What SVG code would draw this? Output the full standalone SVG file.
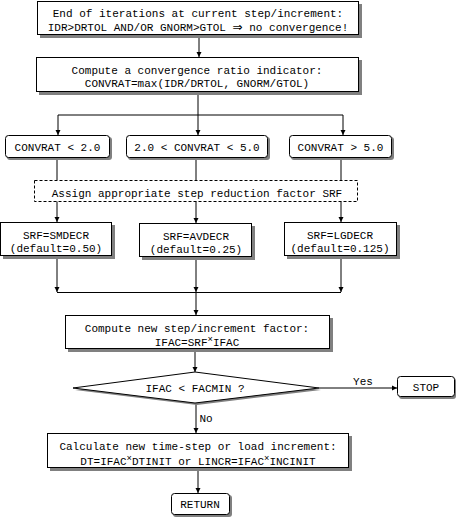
<svg xmlns="http://www.w3.org/2000/svg" width="459" height="519" viewBox="0 0 459 519">
<style>
text{font-family:"Liberation Mono","Courier New",monospace;font-size:11px;fill:#000;text-anchor:middle}
.box{fill:#fff;stroke:#000;stroke-width:1}
.sh{fill:#808080;stroke:none}
.ln{fill:none;stroke:#000;stroke-width:1}
.dash{fill:#fff;stroke:#000;stroke-width:1;stroke-dasharray:3,2}
.sym{font-family:"DejaVu Sans",sans-serif;font-size:12px}
</style>
<defs>
<marker id="ah" markerWidth="6" markerHeight="6" refX="5" refY="3" orient="auto" markerUnits="userSpaceOnUse">
<path d="M0,0.5 L5,3 L0,5.5 Z" fill="#000"/>
</marker>
</defs>
<rect width="459" height="519" fill="#fff"/>
<g id="connectors">
<line class="ln" x1="199" y1="35" x2="199" y2="57" marker-end="url(#ah)"/>
<line class="ln" x1="198" y1="92" x2="198" y2="115"/>
<line class="ln" x1="58" y1="115" x2="343" y2="115"/>
<line class="ln" x1="58" y1="115" x2="58" y2="135" marker-end="url(#ah)"/>
<line class="ln" x1="198" y1="115" x2="198" y2="135" marker-end="url(#ah)"/>
<line class="ln" x1="343" y1="115" x2="343" y2="135" marker-end="url(#ah)"/>
<line class="ln" x1="57" y1="158" x2="57" y2="180"/>
<line class="ln" x1="196" y1="158" x2="196" y2="180"/>
<line class="ln" x1="341" y1="158" x2="341" y2="180"/>
<line class="ln" x1="57" y1="201" x2="57" y2="222" marker-end="url(#ah)"/>
<line class="ln" x1="196" y1="201" x2="196" y2="223" marker-end="url(#ah)"/>
<line class="ln" x1="341" y1="201" x2="341" y2="222" marker-end="url(#ah)"/>
<line class="ln" x1="57" y1="256" x2="57" y2="292" marker-end="url(#ah)"/>
<line class="ln" x1="196" y1="257" x2="196" y2="292" marker-end="url(#ah)"/>
<line class="ln" x1="341" y1="256" x2="341" y2="292" marker-end="url(#ah)"/>
<line class="ln" x1="57" y1="292.5" x2="341" y2="292.5"/>
<line class="ln" x1="196" y1="292" x2="196" y2="315" marker-end="url(#ah)"/>
<line class="ln" x1="195" y1="349" x2="195" y2="372" marker-end="url(#ah)"/>
<line class="ln" x1="319" y1="388" x2="397" y2="388" marker-end="url(#ah)"/>
<line class="ln" x1="196" y1="403" x2="196" y2="433" marker-end="url(#ah)"/>
<line class="ln" x1="198" y1="468" x2="198" y2="493" marker-end="url(#ah)"/>
<text x="363" y="385">Yes</text>
<text x="206" y="422">No</text>
</g>
<g id="n1">
<rect class="sh" x="40" y="4" width="322" height="34"/>
<rect class="box" x="37.5" y="1.5" width="321" height="33"/>
<text x="198" y="17">End of iterations at current step/increment:</text>
<text x="198" y="31">IDR&gt;DRTOL AND/OR GNORM&gt;GTOL <tspan class="sym">⇒</tspan> no convergence!</text>
</g>
<g id="n2">
<rect class="sh" x="39" y="60" width="323" height="35"/>
<rect class="box" x="36.5" y="57.5" width="322" height="34"/>
<text x="197" y="74">Compute a convergence ratio indicator:</text>
<text x="197" y="87">CONVRAT=max(IDR/DRTOL, GNORM/GTOL)</text>
</g>
<g id="c1">
<rect class="sh" x="7" y="137" width="105" height="23" rx="3"/>
<rect class="box" x="5.5" y="135.5" width="104" height="22" rx="3"/>
<text x="57.5" y="151">CONVRAT &lt; 2.0</text>
</g>
<g id="c2">
<rect class="sh" x="128" y="137" width="142" height="23" rx="3"/>
<rect class="box" x="126.5" y="135.5" width="141" height="22" rx="3"/>
<text x="197" y="151">2.0 &lt; CONVRAT &lt; 5.0</text>
</g>
<g id="c3">
<rect class="sh" x="291" y="137" width="103" height="23" rx="3"/>
<rect class="box" x="289.5" y="135.5" width="102" height="22" rx="3"/>
<text x="340.5" y="151">CONVRAT &gt; 5.0</text>
</g>
<g id="assign">
<rect class="dash" x="34.5" y="180.5" width="323" height="21"/>
<text x="197" y="197">Assign appropriate step reduction factor SRF</text>
</g>
<g id="s1">
<rect class="sh" x="3" y="225" width="112" height="34"/>
<rect class="box" x="0.5" y="222.5" width="111" height="33"/>
<text x="56" y="239">SRF=SMDECR</text>
<text x="56" y="252">(default=0.50)</text>
</g>
<g id="s2">
<rect class="sh" x="142" y="226" width="113" height="34"/>
<rect class="box" x="139.5" y="223.5" width="112" height="33"/>
<text x="196" y="240">SRF=AVDECR</text>
<text x="196" y="253">(default=0.25)</text>
</g>
<g id="s3">
<rect class="sh" x="287" y="225" width="113" height="34"/>
<rect class="box" x="284.5" y="222.5" width="112" height="33"/>
<text x="340" y="239">SRF=LGDECR</text>
<text x="340" y="252">(default=0.125)</text>
</g>
<g id="n3">
<rect class="sh" x="68" y="318" width="265" height="34"/>
<rect class="box" x="65.5" y="315.5" width="264" height="33"/>
<text x="197" y="332">Compute new step/increment factor:</text>
<text x="197" y="346">IFAC=SRF<tspan dy="-4" font-size="9">×</tspan><tspan dy="4">IFAC</tspan></text>
</g>
<g id="d1">
<polygon class="sh" points="75,390 197,374 321,390 197,405"/>
<polygon class="box" points="73,388 195,372 319,388 195,403"/>
<text x="195" y="392">IFAC &lt; FACMIN ?</text>
</g>
<g id="stop">
<rect class="sh" x="399" y="378" width="57" height="21" rx="3"/>
<rect class="box" x="397.5" y="376.5" width="57" height="20" rx="3"/>
<text x="426" y="391">STOP</text>
</g>
<g id="n4">
<rect class="sh" x="50" y="436" width="302" height="35"/>
<rect class="box" x="47.5" y="433.5" width="301" height="34"/>
<text x="198" y="450">Calculate new time-step or load increment:</text>
<text x="198" y="465">DT=IFAC<tspan dy="-4" font-size="9">×</tspan><tspan dy="4">DTINIT or LINCR=IFAC</tspan><tspan dy="-4" font-size="9">×</tspan><tspan dy="4">INCINIT</tspan></text>
</g>
<g id="ret">
<rect class="sh" x="173" y="495" width="59" height="22" rx="3"/>
<rect class="box" x="171.5" y="493.5" width="58" height="21" rx="3"/>
<text x="200" y="508">RETURN</text>
</g>
</svg>
